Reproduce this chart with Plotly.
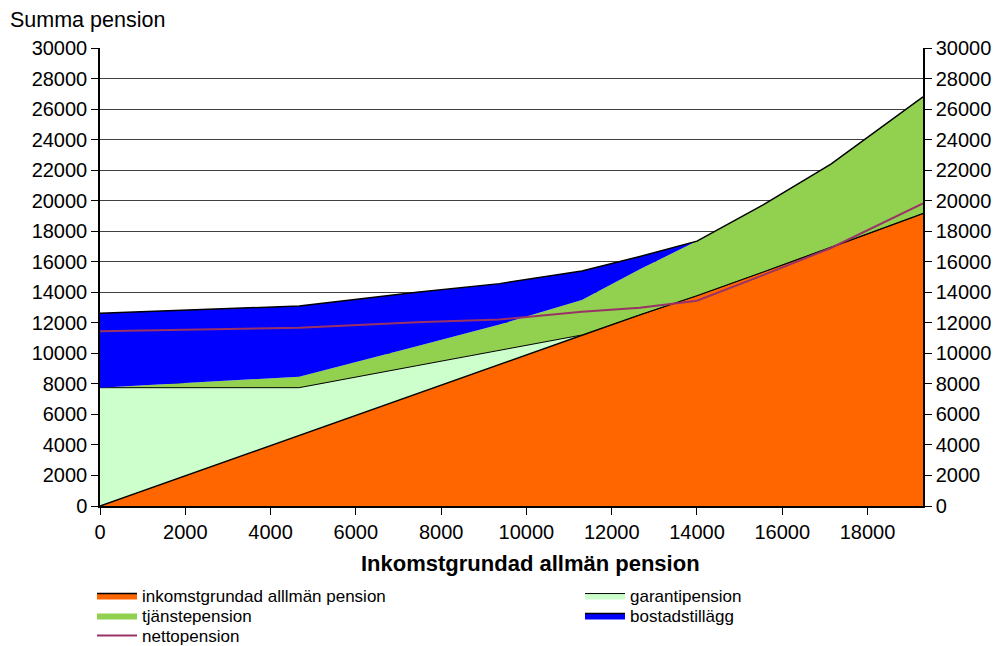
import plotly.graph_objects as go

# Inkomstgrundad allmän pension (x) and the stacked pension parts
inkomst_x = [0, 4670, 7430, 9370, 11300, 12660, 14000, 15550, 17140, 19300]
inkomstgrundad = [0, 4620, 7360, 9280, 11200, 12530, 13780, 15330, 16950, 19170]
garantipension = [7750, 3130, 1830, 916, 0, 0, 0, 0, 0, 0]
tjanstepension = [0, 720, 1280, 1690, 2290, 2980, 3570, 4390, 5450, 7630]
bostadstillagg = [4870, 4630, 3530, 2680, 1900, 830, 0, 0, 0, 0]
nettopension = [11450, 11680, 12030, 12220, 12730, 12980, 13450, 15120, 16900, 19820]

y_ticks = list(range(0, 30001, 2000))
x_ticks = list(range(0, 18001, 2000))

FONT = "Liberation Sans, Arial, sans-serif"

fig = go.Figure()

fig.add_trace(go.Scatter(
    x=inkomst_x, y=inkomstgrundad, name="inkomstgrundad alllmän pension",
    stackgroup="pension", mode="lines",
    line=dict(color="black", width=1.5), fillcolor="#FF6600",
    legend="legend"))
fig.add_trace(go.Scatter(
    x=inkomst_x, y=garantipension, name="garantipension",
    stackgroup="pension", mode="lines",
    line=dict(color="black", width=1), fillcolor="#CCFFCC",
    legend="legend2"))
fig.add_trace(go.Scatter(
    x=inkomst_x, y=tjanstepension, name="tjänstepension",
    stackgroup="pension", mode="lines",
    line=dict(color="#92D050", width=0), fillcolor="#92D050",
    legend="legend3"))
fig.add_trace(go.Scatter(
    x=inkomst_x, y=bostadstillagg, name="bostadstillägg",
    stackgroup="pension", mode="lines",
    line=dict(color="black", width=1.5), fillcolor="#0000FF",
    legend="legend4"))
fig.add_trace(go.Scatter(
    x=inkomst_x, y=nettopension, name="nettopension",
    mode="lines", yaxis="y2",
    line=dict(color="#993366", width=2),
    legend="legend5"))

def legend_at(px, py):
    return dict(x=px / 1007, y=1 - py / 646, xref="container", yref="container",
                xanchor="left", yanchor="middle", bgcolor="rgba(0,0,0,0)",
                font=dict(family=FONT, size=17, color="black"),
                itemwidth=40, tracegroupgap=0)

axis_common = dict(
    tickformat="d", ticks="outside", ticklen=7, tickcolor="black",
    showline=True, linecolor="black", linewidth=1.5, zeroline=False,
    tickfont=dict(family=FONT, size=20),
)

fig.update_layout(
    width=1007, height=646,
    margin=dict(l=100, r=84, t=48, b=140, autoexpand=False),
    plot_bgcolor="white", paper_bgcolor="white",
    font=dict(family=FONT, size=20, color="black"),
    showlegend=True,
    legend=legend_at(92, 596),
    legend2=legend_at(580, 596),
    legend3=legend_at(92, 616),
    legend4=legend_at(580, 616),
    legend5=legend_at(92, 636),
    xaxis=dict(range=[0, 19300], tickvals=x_ticks, showgrid=False,
               tickangle=0, **axis_common),
    yaxis=dict(range=[0, 30000], tickvals=y_ticks, showgrid=True,
               gridcolor="#404040", gridwidth=1, **axis_common),
    yaxis2=dict(range=[0, 30000], tickvals=y_ticks, overlaying="y",
                side="right", showgrid=False, **axis_common),
    annotations=[
        dict(text="Summa pension", xref="paper", yref="paper",
             x=-92 / 823, y=(506 - 20) / 458, xanchor="left", yanchor="middle",
             showarrow=False, font=dict(family=FONT, size=21.5, color="black")),
        dict(text="<b>Inkomstgrundad allmän pension</b>", xref="paper",
             yref="paper", x=(530 - 100) / 823, y=(506 - 563) / 458,
             xanchor="center", yanchor="middle", showarrow=False,
             font=dict(family=FONT, size=22, color="black")),
    ],
)

fig.write_html("out.html")
